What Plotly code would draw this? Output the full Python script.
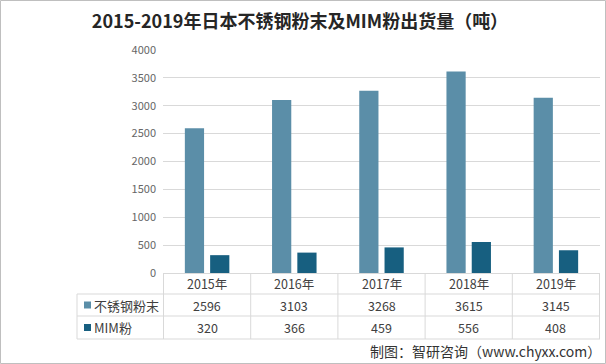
import plotly.graph_objects as go

categories = ["2015年", "2016年", "2017年", "2018年", "2019年"]
series_names = ["不锈钢粉末", "MIM粉"]
stainless = [2596, 3103, 3268, 3615, 3145]
mim = [320, 366, 459, 556, 408]
y_ticks = [0, 500, 1000, 1500, 2000, 2500, 3000, 3500, 4000]

colors = ["#5b8ea8", "#175f80"]
FONT = "Noto Sans CJK SC"

W, H = 606, 364
L, R, T, B = 163, 6, 50, 91
PW = W - L - R
PH = H - T - B

def px_x(px):
    return (px - L) / PW

def px_y(py):
    return (H - B - py) / PH

fig = go.Figure()
for name, vals, c in zip(series_names, [stainless, mim], colors):
    fig.add_trace(go.Bar(x=categories, y=vals, name=name, marker_color=c,
                         marker_line_width=0, showlegend=False))

shapes = []
ann = []
line_c = "#d9d9d9"
# horizontal table lines
for py in [294, 316, 339]:
    shapes.append(dict(type="line", xref="paper", yref="paper",
                       x0=px_x(77), x1=1, y0=px_y(py), y1=px_y(py),
                       line=dict(color=line_c, width=1)))
# vertical table lines at category boundaries
n = len(categories)
for i in range(n + 1):
    shapes.append(dict(type="line", xref="x", yref="paper",
                       x0=i - 0.5, x1=i - 0.5, y0=0, y1=px_y(339),
                       line=dict(color=line_c, width=1)))
shapes.append(dict(type="line", xref="paper", yref="paper",
                   x0=px_x(77), x1=px_x(77), y0=px_y(294), y1=px_y(339),
                   line=dict(color=line_c, width=1)))
# outer border
shapes.append(dict(type="rect", xref="paper", yref="paper",
                   x0=px_x(0.5), x1=px_x(W - 0.5), y0=px_y(H - 0.5), y1=px_y(0.5),
                   line=dict(color="#bfbfbf", width=1)))

# header year labels
for cat in categories:
    ann.append(dict(x=cat, y=px_y(283.5), xref="x", yref="paper", text=cat,
                    showarrow=False, xanchor="center", yanchor="middle",
                    font=dict(size=12.5, color="#404040", family=FONT)))

row_centers = [305, 327.5]
for name, vals, c, py in zip(series_names, [stainless, mim], colors, row_centers):
    shapes.append(dict(type="rect", xref="paper", yref="paper",
                       x0=px_x(84), x1=px_x(91), y0=px_y(py + 3.5), y1=px_y(py - 3.5),
                       fillcolor=c, line=dict(width=0)))
    ann.append(dict(x=px_x(92), y=px_y(py), xref="paper", yref="paper", text=name,
                    showarrow=False, xanchor="left", yanchor="middle",
                    font=dict(size=13, color="#404040", family=FONT)))
    for cat, v in zip(categories, vals):
        ann.append(dict(x=cat, y=px_y(py), xref="x", yref="paper", text=str(v),
                        showarrow=False, xanchor="center", yanchor="middle",
                        font=dict(size=12.5, color="#404040", family=FONT)))

ann.append(dict(x=px_x(603), y=px_y(351), xref="paper", yref="paper",
                text="制图：智研咨询（www.chyxx.com）", showarrow=False,
                xanchor="right", yanchor="middle",
                font=dict(size=14, color="#333333", family=FONT)))

fig.update_layout(
    width=W, height=H,
    margin=dict(l=L, r=R, t=T, b=B),
    paper_bgcolor="white", plot_bgcolor="white",
    title=dict(text="<b>2015-2019年日本不锈钢粉末及MIM粉出货量（吨）</b>",
               x=300 / W, xanchor="center", y=1 - 22 / H, yanchor="middle",
               font=dict(size=18, color="#262626", family=FONT)),
    barmode="group", bargap=0.42, bargroupgap=0.24,
    xaxis=dict(showticklabels=False, showline=True, linecolor=line_c,
               showgrid=False, ticks="", fixedrange=True),
    yaxis=dict(range=[0, 4000], tickvals=y_ticks, showgrid=True, gridcolor=line_c,
               zeroline=False, showline=False, ticks="", ticklabelstandoff=6,
               tickfont=dict(size=11, color="#666666", family=FONT)),
    shapes=shapes, annotations=ann,
)

fig.write_html("out.html", config={"displayModeBar": False},
               post_script="document.body.style.margin='0';document.body.style.overflow='hidden';")
